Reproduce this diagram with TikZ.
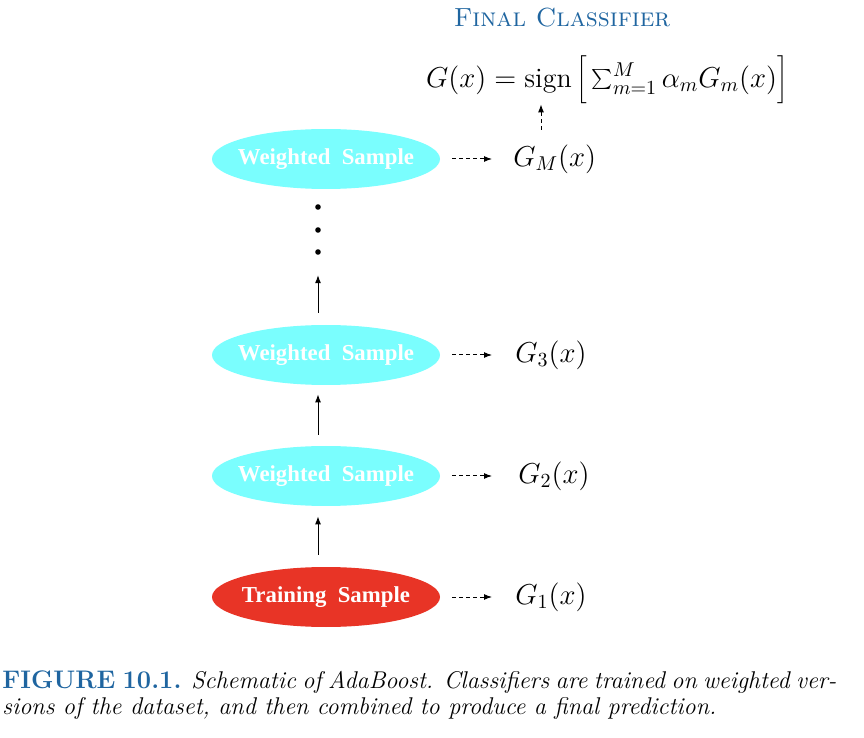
\documentclass[tikz,border=0pt]{standalone}
\usepackage{fontspec}
\usetikzlibrary{shapes.geometric,arrows.meta}
\newfontfamily\ellfont{Liberation Serif}
\definecolor{capblue}{RGB}{31,101,160}
\definecolor{wcyan}{RGB}{122,254,254}
\definecolor{tred}{RGB}{232,52,38}
\begin{document}
\begin{tikzpicture}[x=0.5pt,y=-0.5pt,
  samptext/.style={inner sep=0pt,text=white,font=\ellfont\fontsize{11.4}{13}\bfseries\selectfont},
  samp/.style={ellipse,minimum width=114pt,minimum height=30pt,inner sep=0pt},
  wsamp/.style={samp,fill=wcyan},
  tsamp/.style={samp,fill=tred},
  glab/.style={anchor=west,inner sep=0pt,font=\fontsize{14}{16}\selectfont},
  tipa/.style={-{Latex[length=4pt,width=3pt]}},
  dasharr/.style={tipa,line width=0.5pt,dash pattern=on 2pt off 1.5pt},
  solarr/.style={tipa,line width=0.5pt},
  dotsty/.style={circle,fill=black,inner sep=0pt,minimum size=2.8pt}]
\useasboundingbox (0,0) rectangle (864,738);
% title and formula
\node[text=capblue,font=\fontsize{13.1}{15}\selectfont] (T) at (562,18) {\textsc{Final Classifier}};
\node[inner sep=0pt,font=\fontsize{14}{16}\selectfont] (F) at (607,80)
  {$G(x)=\mathrm{sign}\left[\rule[-7pt]{0pt}{17pt}\sum_{m=1}^{M}\alpha_m G_m(x)\right]$};
% samples
\node[wsamp,label={[samptext]center:Weighted\ \ Sample}] (eM) at (326,159) {};
\node[wsamp,label={[samptext]center:Weighted\ \ Sample}] (e3) at (326,355) {};
\node[wsamp,label={[samptext]center:Weighted\ \ Sample}] (e2) at (326,476) {};
\node[tsamp,label={[samptext]center:Training\ \ Sample}] (e1) at (326,597) {};
% classifier labels
\node[glab] (gM) at (513,159) {$G_M(x)$};
\node[glab] (g3) at (515,355) {$G_3(x)$};
\node[glab] (g2) at (518,476) {$G_2(x)$};
\node[glab] (g1) at (515,597) {$G_1(x)$};
% dots
\node[dotsty] (d1) at (318,207) {};
\node[dotsty] (d2) at (318,230) {};
\node[dotsty] (d3) at (318,252) {};
% dashed arrows to classifiers
\draw[dasharr,shorten <=6pt,shorten >=10.5pt] (eM) -- (gM);
\draw[dasharr,shorten <=6pt,shorten >=11.5pt] (e3) -- (g3);
\draw[dasharr,shorten <=6pt,shorten >=13pt] (e2) -- (g2);
\draw[dasharr,shorten <=6pt,shorten >=11.5pt] (e1) -- (g1);
% vertical solid arrows
\draw[solarr,shorten <=6pt,shorten >=5pt] ([xshift=-4pt]e1.north) -- ([xshift=-4pt]e2.south);
\draw[solarr,shorten <=5.5pt,shorten >=4.5pt] ([xshift=-4pt]e2.north) -- ([xshift=-4pt]e3.south);
\draw[solarr,shorten <=6pt,shorten >=10pt] ([xshift=-4pt]e3.north) -- (d3);
% dashed arrow to final classifier
\coordinate (vb) at (541,130);
\draw[dasharr] (vb) -- (vb |- F.south);
% caption
\node[anchor=base west,inner sep=0pt,font=\fontsize{12.1}{14}\selectfont] (c1) at (2,688)
  {\makebox[417pt][s]{\textcolor{capblue}{\fontsize{12.7}{14}\selectfont\bfseries FIGURE 10.1.} \itshape Schematic of AdaBoost. Classifiers are trained on weighted ver-}};
\node[anchor=base west,inner sep=0pt,font=\fontsize{12.1}{14}\selectfont\itshape] (c2) at (2,714)
  {sions of the dataset, and then combined to produce a final prediction.};
\end{tikzpicture}
\end{document}
